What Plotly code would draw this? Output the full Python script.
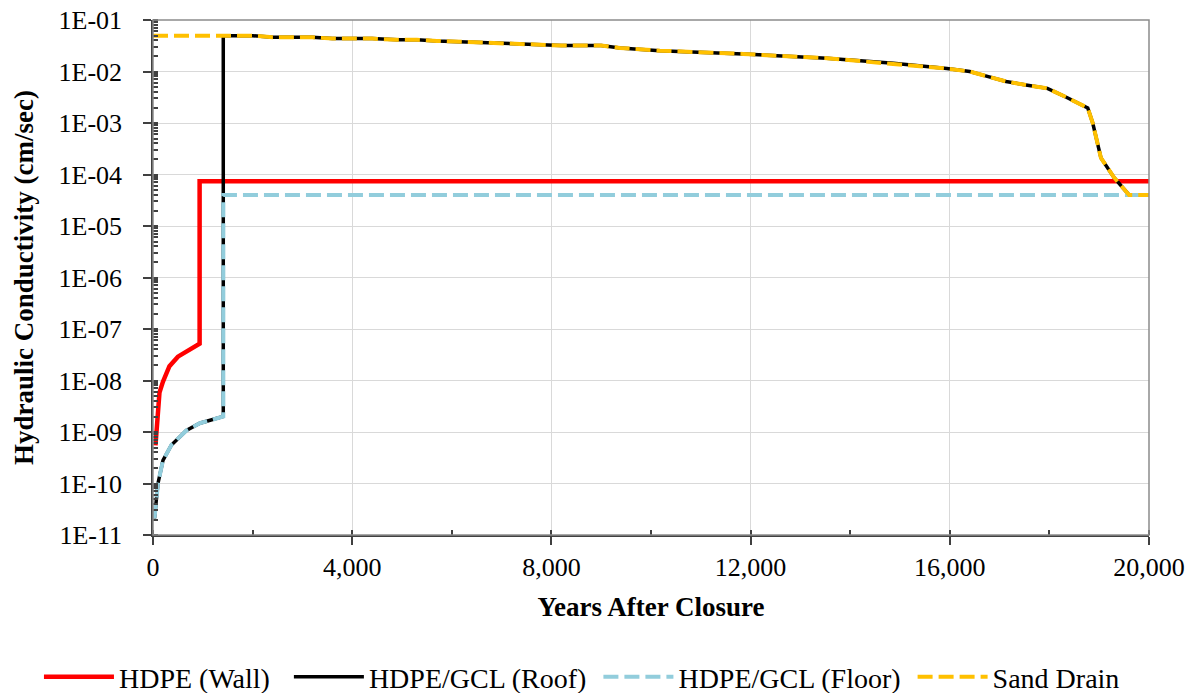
import plotly.graph_objects as go

# ---- data ----
wall_years = [50, 130, 200, 330, 500, 740, 936, 936, 20000]
wall_k = [5.5e-10, 5.8e-9, 9.5e-9, 1.9e-8, 2.9e-8, 4.0e-8, 5.2e-8, 7.4e-5, 7.4e-5]

early_years = [30, 100, 200, 370, 670, 940, 1411]
early_k = [2.1e-11, 1.0e-10, 2.8e-10, 5.6e-10, 1.07e-9, 1.48e-9, 2.0e-9]

floor_years_late = [1411, 20000]
floor_k_late = [4.0e-5, 4.0e-5]

sand_years = [0, 1500, 2000, 2400, 3200, 3600, 4400, 4900, 5300, 5700, 6630, 7300, 7700,
              8200, 9000, 9380, 10180, 10980, 11850, 13530, 13930, 14870, 15940, 16400,
              16700, 17130, 17560, 17960, 18330, 18770, 18870, 19035, 19300, 19600, 20000]
sand_k = [4.97e-2, 4.97e-2, 4.97e-2, 4.61e-2, 4.61e-2, 4.35e-2, 4.35e-2, 4.13e-2, 4.13e-2,
          3.92e-2, 3.63e-2, 3.53e-2, 3.33e-2, 3.2e-2, 3.2e-2, 2.87e-2, 2.54e-2, 2.4e-2,
          2.19e-2, 1.81e-2, 1.68e-2, 1.45e-2, 1.14e-2, 1.0e-2, 8.3e-3, 6.4e-3, 5.4e-3,
          4.7e-3, 3.2e-3, 1.96e-3, 1.0e-3, 2.1e-4, 8.7e-5, 4.0e-5, 4.0e-5]

roof_jump_year = 1411
roof_jump_k = 4.97e-2

series_names = ["HDPE (Wall)", "HDPE/GCL (Roof)", "HDPE/GCL (Floor)", "Sand Drain"]

y_tickvals = [1e-11, 1e-10, 1e-9, 1e-8, 1e-7, 1e-6, 1e-5, 1e-4, 1e-3, 1e-2, 1e-1]
y_ticktext = ["1E-11", "1E-10", "1E-09", "1E-08", "1E-07", "1E-06", "1E-05",
              "1E-04", "1E-03", "1E-02", "1E-01"]

# ---- build series ----
roof_years = early_years + [roof_jump_year] + [y for y in sand_years if y >= 1500]
roof_k = early_k + [roof_jump_k] + [k for y, k in zip(sand_years, sand_k) if y >= 1500]
floor_years = early_years + floor_years_late
floor_k = early_k + floor_k_late

FONT = "Liberation Serif"
NB = "\u00a0"
# trailing non-breaking spaces widen the gaps between legend entries
legend_pad = [2, 1, 1, 0]
labels = [n + NB * p for n, p in zip(series_names, legend_pad)]

fig = go.Figure()
fig.add_trace(go.Scatter(x=wall_years, y=wall_k, mode="lines", name=labels[0],
                         line=dict(color="#FF0000", width=4.5)))
fig.add_trace(go.Scatter(x=roof_years, y=roof_k, mode="lines", name=labels[1],
                         line=dict(color="#000000", width=3.5)))
fig.add_trace(go.Scatter(x=floor_years, y=floor_k, mode="lines", name=labels[2],
                         line=dict(color="#92CDDC", width=4, dash="15px,6px")))
fig.add_trace(go.Scatter(x=sand_years, y=sand_k, mode="lines", name=labels[3],
                         line=dict(color="#FFC000", width=4, dash="15px,6px")))

fig.update_layout(
    width=1194, height=693,
    margin=dict(l=153, r=45, t=20, b=158, autoexpand=False),
    paper_bgcolor="white", plot_bgcolor="white",
    font=dict(family=FONT, size=26, color="#000000"),
    showlegend=True,
    legend=dict(orientation="h", x=-0.1145, xanchor="left", y=-0.2757, yanchor="middle",
                font=dict(family=FONT, size=28, color="#000000"),
                itemwidth=70, bgcolor="rgba(0,0,0,0)", traceorder="normal"),
    shapes=[dict(type="rect", xref="paper", yref="paper", x0=0, y0=0, x1=1, y1=1,
                 line=dict(color="#8c8c8c", width=1.5), layer="above")],
)

fig.update_xaxes(
    range=[0, 20000], dtick=4000, tick0=0, tickformat=",d",
    automargin=False,
    showgrid=True, gridcolor="#d9d9d9", gridwidth=1,
    showline=True, linecolor="#404040", linewidth=1.5,
    ticks="outside", ticklen=8, tickwidth=1.5, tickcolor="#404040",
    minor=dict(dtick=2000, ticks="inside", ticklen=5, tickcolor="#404040", showgrid=False),
    tickfont=dict(family=FONT, size=26, color="#000000"),
    zeroline=False,
    title=dict(text="<b>Years After Closure</b>", font=dict(family=FONT, size=27, color="#000000"),
               standoff=16),
)
fig.update_yaxes(
    type="log", range=[-11, -1],
    tickvals=y_tickvals, ticktext=y_ticktext,
    automargin=False,
    showgrid=True, gridcolor="#d9d9d9", gridwidth=1,
    showline=True, linecolor="#404040", linewidth=1.5,
    ticks="outside", ticklen=8, tickwidth=1.5, tickcolor="#404040",
    minor=dict(dtick="D1", ticks="inside", ticklen=5, tickcolor="#404040", showgrid=False),
    tickfont=dict(family=FONT, size=26, color="#000000"),
    ticklabelstandoff=16,
    zeroline=False,
    title=dict(text="<b>Hydraulic Conductivity (cm/sec)</b>",
               font=dict(family=FONT, size=27, color="#000000"), standoff=17),
)

fig.write_html("out.html", config={"displayModeBar": False},
               post_script="document.body.style.margin='0';")
